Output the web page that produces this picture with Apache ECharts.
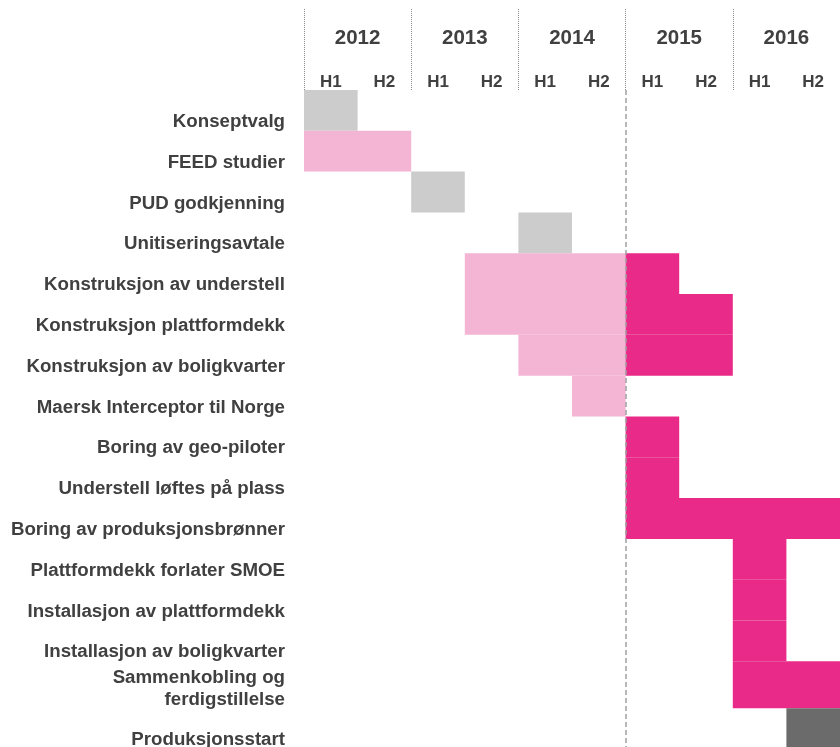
<!DOCTYPE html>
<html>
<head>
<meta charset="utf-8">
<script src="https://cdn.jsdelivr.net/npm/echarts@6/dist/echarts.min.js"></script>
<style>
html,body{margin:0;padding:0;background:#fff;}
#chart{width:840px;height:747px;}
</style>
</head>
<body>
<div id="chart"></div>
<script>
// Tasks (rows, top to bottom)
const tasks = [
  'Konseptvalg',
  'FEED studier',
  'PUD godkjenning',
  'Unitiseringsavtale',
  'Konstruksjon av understell',
  'Konstruksjon plattformdekk',
  'Konstruksjon av boligkvarter',
  'Maersk Interceptor til Norge',
  'Boring av geo-piloter',
  'Understell løftes på plass',
  'Boring av produksjonsbrønner',
  'Plattformdekk forlater SMOE',
  'Installasjon av plattformdekk',
  'Installasjon av boligkvarter',
  'Sammenkobling og\nferdigstillelse',
  'Produksjonsstart'
];
// Time header labels
const years = ['2012', '2013', '2014', '2015', '2016'];
const halves = ['H1', 'H2', 'H1', 'H2', 'H1', 'H2', 'H1', 'H2', 'H1', 'H2'];
// Segments: [task index, start half-year, end half-year] (0 = 2012 H1)
const greySegs = [[0, 0, 1], [2, 2, 3], [3, 4, 5]];
const pinkSegs = [[1, 0, 2], [4, 3, 6], [5, 3, 6], [6, 4, 6], [7, 5, 6]];
const magentaSegs = [[4, 6, 7], [5, 6, 8], [6, 6, 8], [8, 6, 7], [9, 6, 7], [10, 6, 10],
                     [11, 8, 9], [12, 8, 9], [13, 8, 9], [14, 8, 10]];
const darkSegs = [[15, 9, 10]];
const todayHalf = 6;

// Layout: row heights in row units (the two-line row is taller)
const rowSpan = tasks.map(t => 1);
rowSpan[14] = 1.152;
rowSpan[15] = 0.948;
const rowTop = [];
let acc = 0;
rowSpan.forEach((s, i) => { rowTop.push(acc); acc += s; });
const yMax = acc;
// label anchor inside each row (row units from row top)
const labelAnchor = tasks.map((t, i) => rowTop[i] + (t.indexOf('\n') >= 0 ? 0.666 : 0.78));

const chart = echarts.init(document.getElementById('chart'), null, {renderer: 'canvas', width: 840, height: 747});

function renderItem(params, api) {
  const row = api.value(0);
  const p0 = api.coord([api.value(1), rowTop[row]]);
  const p1 = api.coord([api.value(2), rowTop[row] + rowSpan[row]]);
  return {
    type: 'rect',
    shape: {x: p0[0], y: p0[1], width: p1[0] - p0[0], height: p1[1] - p0[1]},
    style: {fill: api.visual('color')}
  };
}

function seg(name, data, color, extra) {
  return Object.assign({
    type: 'custom',
    name: name,
    renderItem: renderItem,
    xAxisIndex: 0,
    yAxisIndex: 0,
    encode: {x: [1, 2], y: 0},
    itemStyle: {color: color},
    data: data,
    z: 2
  }, extra || {});
}

const labelFont = 'Liberation Sans, Arial, sans-serif';

chart.setOption({
  animation: false,
  grid: {left: 304, top: 90, width: 536, height: 657, containLabel: false, outerBoundsMode: 'none'},
  xAxis: [
    {type: 'value', min: 0, max: 10, show: false},
    {
      type: 'category', position: 'top', data: years, gridIndex: 0,
      axisLine: {show: false},
      axisTick: {show: true, length: 81, lineStyle: {color: '#8a8a8a', width: 1, type: [1, 1]}},
      axisLabel: {margin: 41, color: '#404040', fontSize: 20.5, fontWeight: 'bold', fontFamily: labelFont},
      splitLine: {show: false}
    },
    {
      type: 'category', position: 'top', data: halves, gridIndex: 0,
      axisLine: {show: false},
      axisTick: {show: false},
      axisLabel: {margin: -1, color: '#404040', fontSize: 17, fontWeight: 'bold', fontFamily: labelFont},
      splitLine: {show: false}
    }
  ],
  yAxis: {
    type: 'value', inverse: true, min: 0, max: yMax,
    axisLine: {show: false}, axisTick: {show: false}, splitLine: {show: false},
    axisLabel: {
      show: true,
      margin: 19,
      customValues: labelAnchor,
      showMinLabel: true,
      showMaxLabel: true,
      hideOverlap: false,
      formatter: function (v) {
        let idx = 0, best = Infinity;
        labelAnchor.forEach((a, i) => { if (Math.abs(a - v) < best) { best = Math.abs(a - v); idx = i; } });
        const t = tasks[idx];
        return t.split('\n').map(s => '{a|' + s + '}').join('\n');
      },
      rich: {
        a: {color: '#404040', fontSize: 18.7, fontWeight: 'bold', fontFamily: labelFont, lineHeight: 22, align: 'right'}
      }
    }
  },
  series: [
    seg('Grey', greySegs, '#cccccc'),
    seg('Pink', pinkSegs, '#f4b4d4'),
    seg('Magenta', magentaSegs, '#e92a88'),
    seg('Dark', darkSegs, '#6b6b6b', {
      markLine: {
        silent: true, symbol: 'none', z: 10,
        label: {show: false},
        lineStyle: {color: '#a0a0a0', width: 1.5, type: [5, 3]},
        data: [{xAxis: todayHalf}]
      }
    })
  ]
});
</script>
</body>
</html>
